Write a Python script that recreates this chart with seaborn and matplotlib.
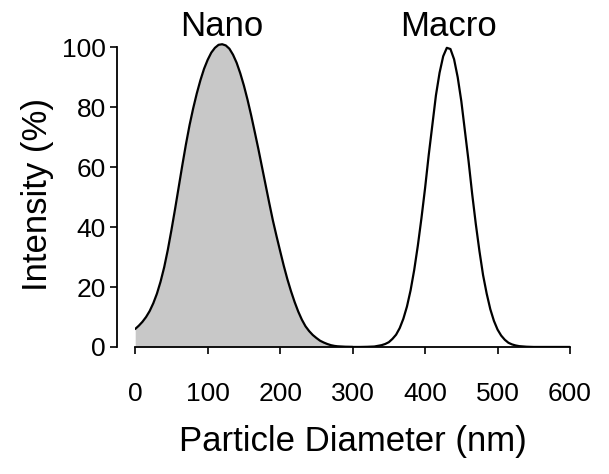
import matplotlib
matplotlib.use("Agg")
import matplotlib.pyplot as plt
import seaborn as sns
import pandas as pd

# Nano distribution
nano_x = [0, 5, 10, 15, 20, 25, 30, 35, 40, 45, 50, 55, 60, 65, 70, 75, 80, 85,
          90, 95, 100, 105, 110, 115, 120, 125, 130, 135, 140, 145, 150, 155,
          160, 165, 170, 175, 180, 185, 190, 195, 200, 205, 210, 215, 220, 225,
          230, 235, 240, 245, 250, 255, 260, 265, 270, 275, 280, 290, 300,
          350, 400, 450, 500, 550, 600]
nano_y = [6, 7.1, 8.4, 10, 12, 14.6, 17.8, 21.8, 26.6, 32.4, 39, 46, 53.3,
          60.6, 67.6, 74, 79.6, 84.6, 89, 92.8, 95.8, 98.2, 99.8, 100.8, 101,
          100.6, 99.5, 97.5, 94.8, 91.3, 87.2, 82.5, 77.3, 71.7, 66, 60, 54,
          48, 42.2, 37, 32, 27.1, 22.6, 18.6, 15, 11.8, 9.1, 6.9, 5.3, 4, 3,
          2.1, 1.5, 1, 0.6, 0.35, 0.2, 0.05, 0, 0, 0, 0, 0, 0, 0]

# Macro distribution
macro_x = [280, 300, 310, 320, 330, 340, 345, 350, 355, 360, 365, 370, 375, 380,
           385, 390, 395, 400, 405, 410, 415, 420, 425, 430, 435, 440, 445, 450,
           455, 460, 465, 470, 475, 480, 485, 490, 495, 500, 505, 510, 515, 520,
           525, 530, 540, 550, 575, 600]
macro_y = [0, 0, 0, 0.05, 0.15, 0.6, 1.0, 1.6, 2.7, 4.1, 6.3, 9.4, 13.5, 18.9,
           25.7, 33.8, 43, 53, 64, 74, 84, 91.5, 97, 99.8, 99.4, 96, 90, 82,
           72, 62, 51, 41, 32, 24, 17.8, 12.6, 8.7, 5.8, 3.8, 2.4, 1.4, 0.85,
           0.5, 0.27, 0.08, 0, 0, 0]

x_ticks = [0, 100, 200, 300, 400, 500, 600]
y_ticks = [0, 20, 40, 60, 80, 100]
labels = ["Nano", "Macro"]
label_x = [119, 432]

nano = pd.DataFrame({"x": nano_x, "y": nano_y})
macro = pd.DataFrame({"x": macro_x, "y": macro_y})

sns.set_style("ticks")
plt.rcParams["font.family"] = ["Liberation Sans", "DejaVu Sans"]
plt.rcParams["text.color"] = "black"
plt.rcParams["axes.labelcolor"] = "black"
plt.rcParams["xtick.color"] = "black"
plt.rcParams["ytick.color"] = "black"

fig = plt.figure(figsize=(6.09, 4.74), dpi=100)
ax = fig.add_axes([0.222, 0.268, 0.714, 0.645])

ax.fill_between(nano["x"], nano["y"], 0, color="#c8c8c8", linewidth=0, zorder=1)
sns.lineplot(data=nano[nano["x"] <= 300], x="x", y="y", ax=ax, color="black",
             linewidth=1.6, zorder=3)
sns.lineplot(data=macro, x="x", y="y", ax=ax, color="black", linewidth=1.6, zorder=3)

ax.set_xlim(0, 600)
ax.set_ylim(0, 102)
ax.set_xticks(x_ticks)
ax.set_yticks(y_ticks)
ax.tick_params(axis="x", labelsize=19, length=5, width=1.2, pad=20, direction="out",
               colors="black")
ax.tick_params(axis="y", labelsize=19, length=5, width=1.2, pad=3, direction="out",
               colors="black")

for side in ["top", "right"]:
    ax.spines[side].set_visible(False)
ax.spines["left"].set_position(("outward", 13))
ax.spines["left"].set_bounds(0, 100)
ax.spines["bottom"].set_bounds(0, 600)
for side in ["left", "bottom"]:
    ax.spines[side].set_linewidth(1.3)
    ax.spines[side].set_color("black")

ax.set_xlabel("Particle Diameter (nm)", fontsize=25, labelpad=14, color="black")
ax.set_ylabel("Intensity (%)", fontsize=25, labelpad=6, color="black")

for lx, lab in zip(label_x, labels):
    ax.text(lx, 107, lab, fontsize=25, ha="center", va="center", clip_on=False,
            color="black")

fig.savefig("out.png", dpi=100)
